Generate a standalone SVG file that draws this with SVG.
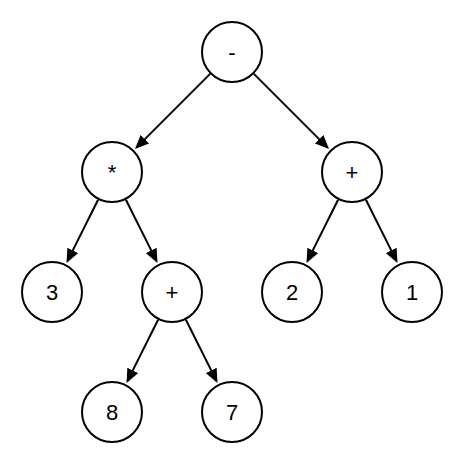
<svg xmlns="http://www.w3.org/2000/svg" width="464" height="464" viewBox="0 0 464 464">
<style>
.node circle{fill:#fff;stroke:#000;stroke-width:2}
.node text{font-family:"Liberation Sans",Arial,sans-serif;font-size:22px;fill:#000;text-anchor:middle}
.edges line{stroke:#000;stroke-width:2;marker-end:url(#arr)}
</style>
<defs>
<marker id="arr" markerUnits="userSpaceOnUse" markerWidth="14" markerHeight="12" refX="12" refY="6" orient="auto">
<path d="M0,0 L14,6 L0,12 z" fill="#000"/>
</marker>
</defs>
<rect width="464" height="464" fill="#fff"/>
<g class="edges" id="connectors">
<line x1="210.1" y1="73.9" x2="136.4" y2="147.6"/>
<line x1="253.9" y1="73.9" x2="327.6" y2="147.6"/>
<line x1="98.1" y1="199.7" x2="67.4" y2="261.1"/>
<line x1="125.9" y1="199.7" x2="156.6" y2="261.1"/>
<line x1="338.1" y1="199.7" x2="307.4" y2="261.1"/>
<line x1="365.9" y1="199.7" x2="396.6" y2="261.1"/>
<line x1="158.1" y1="319.7" x2="127.4" y2="381.1"/>
<line x1="185.9" y1="319.7" x2="216.6" y2="381.1"/>
</g>
<g class="node" id="n-minus"><circle cx="232" cy="52" r="30"/><text x="232" y="60">-</text></g>
<g class="node" id="n-times"><circle cx="112" cy="172" r="30"/><text x="112" y="180">*</text></g>
<g class="node" id="n-plus1"><circle cx="352" cy="172" r="30"/><text x="352" y="180">+</text></g>
<g class="node" id="n-3"><circle cx="52" cy="292" r="30"/><text x="52" y="300">3</text></g>
<g class="node" id="n-plus2"><circle cx="172" cy="292" r="30"/><text x="172" y="300">+</text></g>
<g class="node" id="n-2"><circle cx="292" cy="292" r="30"/><text x="292" y="300">2</text></g>
<g class="node" id="n-1"><circle cx="412" cy="292" r="30"/><text x="412" y="300">1</text></g>
<g class="node" id="n-8"><circle cx="112" cy="412" r="30"/><text x="112" y="420">8</text></g>
<g class="node" id="n-7"><circle cx="232" cy="412" r="30"/><text x="232" y="420">7</text></g>
</svg>
